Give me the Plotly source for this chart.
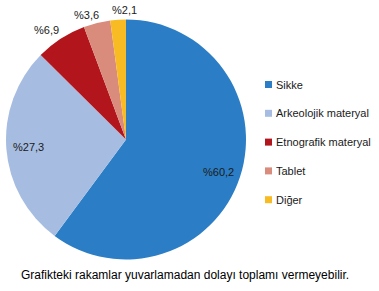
import plotly.graph_objects as go

categories = ["Sikke", "Arkeolojik materyal", "Etnografik materyal", "Tablet", "Diğer"]
values = [60.2, 27.3, 6.9, 3.6, 2.1]
colors = ["#2B7EC5", "#A6BDE1", "#B2161C", "#D98B7C", "#F9BB24"]
label_text = ["%" + f"{v:.1f}".replace(".", ",") for v in values]
footnote = "Grafikteki rakamlar yuvarlamadan dolayı toplamı vermeyebilir."

W, H = 379, 291
def px(x):
    return x / W
def py(y):
    return 1 - y / H

FONT = "Liberation Sans, Arial, sans-serif"

fig = go.Figure(go.Pie(
    labels=categories,
    values=values,
    textinfo="none",
    sort=False,
    direction="clockwise",
    rotation=0,
    marker=dict(colors=colors, line=dict(width=0)),
    domain=dict(x=[px(6), px(246)], y=[py(260), py(19)]),
    showlegend=False,
    hoverinfo="label+percent",
))

# data-label placement (Excel "best fit" style positions, pixels)
label_pos = [(218, 172), (28, 147), (46.5, 30), (86, 15), (124, 10)]

shapes = []
annotations = []
for txt, (lx, ly) in zip(label_text, label_pos):
    annotations.append(dict(x=px(lx), y=py(ly), xref="paper", yref="paper",
                            text=txt, showarrow=False, xanchor="center", yanchor="middle",
                            font=dict(family=FONT, size=11, color="#1a1a1a")))

for i, (cat, col) in enumerate(zip(categories, colors)):
    yc = 84.5 + i * 28.8
    shapes.append(dict(type="rect", xref="paper", yref="paper",
                       x0=px(265), x1=px(272), y0=py(yc + 3.5), y1=py(yc - 3.5),
                       fillcolor=col, line=dict(width=0)))
    annotations.append(dict(x=px(274), y=py(yc), xref="paper", yref="paper",
                            text=cat, showarrow=False, xanchor="left", yanchor="middle",
                            font=dict(family=FONT, size=11, color="#1a1a1a")))

annotations.append(dict(x=px(185), y=py(275), xref="paper", yref="paper",
                        text=footnote, showarrow=False, xanchor="center", yanchor="middle",
                        font=dict(family=FONT, size=12, color="#000000")))

fig.update_layout(
    width=W, height=H,
    margin=dict(l=0, r=0, t=0, b=0),
    paper_bgcolor="white",
    plot_bgcolor="white",
    shapes=shapes,
    annotations=annotations,
)

fig.write_html("out.html")
